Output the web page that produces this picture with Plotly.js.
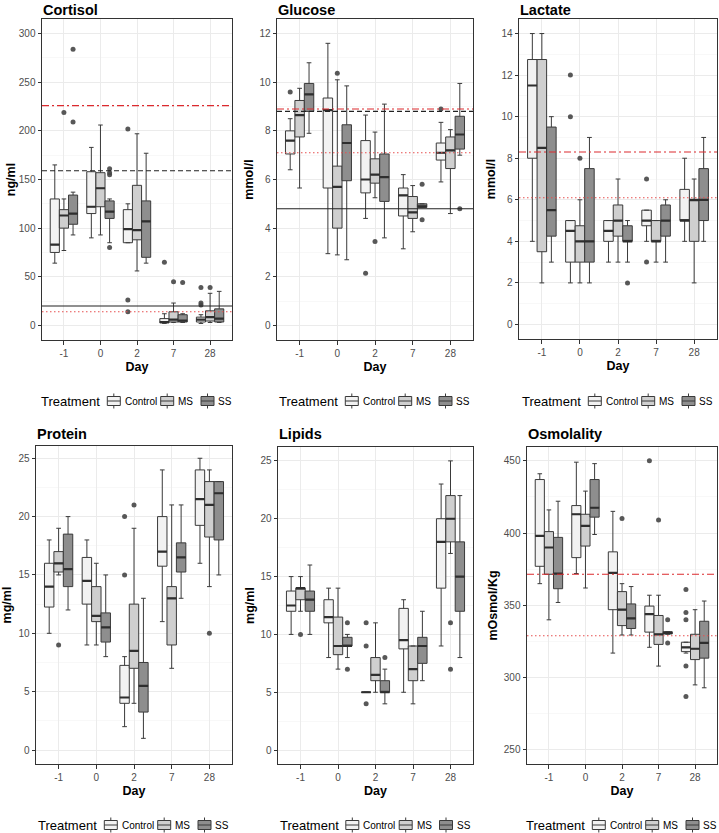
<!DOCTYPE html>
<html><head><meta charset="utf-8">
<script src="https://cdn.plot.ly/plotly-3.0.1.min.js"></script>
<style>html,body{margin:0;padding:0;background:#fff}</style>
</head><body><div id="chart" style="width:719px;height:833px"></div>
<script>
// ---------------- DATA ----------------
const days = ['-1','0','2','7','28'];
const treatments = ['Control','MS','SS'];
const panelTitles = ['Cortisol','Glucose','Lactate','Protein','Lipids','Osmolality'];
const yUnits = ['ng/ml','mmol/l','mmol/l','mg/ml','mg/ml','mOsmol/Kg'];

// each row (one per day -1,0,2,7,28): [lower whisker, Q1, median, Q3, upper whisker]
const cortisolControl = [[64,75,83,130,165],[90,115,122,158,183],[85,85,99,119,125],[2,2.5,3.5,7,12],[2,3.5,6,8.5,11]];
const cortisolMS      = [[77,100,113,119,130],[93,122,141,157,206],[56,88,98,144,197],[3,3.5,6,14,23],[3,4.5,8.5,15,33]];
const cortisolSS      = [[93,104,115,134,137],[85,110,117,128,130],[64,70,107,128,177],[3,3.5,5,11,12],[3,3.5,7,17,35]];
// outliers: [day, value]
const cortisolControlOut = [['2',202],['2',26],['2',14],['7',65],['28',39],['28',23],['28',21]];
const cortisolMSOut      = [['-1',219],['7',45],['28',39]];
const cortisolSSOut      = [['-1',209],['-1',284],['0',80],['0',155],['0',157],['0',161],['7',44]];

const glucoseControl = [[6.4,7.05,7.6,8.0,8.5],[2.95,5.65,8.85,9.35,11.6],[4.4,5.45,6.0,7.6,8.65],[3.15,4.5,5.35,5.65,6.2],[5.9,6.8,7.1,7.5,8.35]];
const glucoseMS      = [[5.65,7.75,8.65,9.25,9.75],[2.9,4.0,5.7,6.55,10.1],[5.25,5.85,6.2,6.85,7.95],[3.85,4.4,4.65,5.3,5.75],[4.6,6.45,7.2,7.75,8.05]];
const glucoseSS      = [[7.9,8.8,9.5,9.95,10.8],[2.7,5.95,7.5,8.25,9.85],[3.6,5.1,6.1,7.05,9.1],[4.85,4.85,4.9,5.0,5.0],[7.0,7.25,7.85,8.6,9.95]];
const glucoseControlOut = [['-1',9.6],['2',2.15],['28',8.9]];
const glucoseMSOut      = [['0',10.37],['2',3.45]];
const glucoseSSOut      = [['7',5.8],['7',4.35],['28',4.8]];

const lactateControl = [[4,8,11.5,12.75,14],[2,3,4.5,5,5],[3,4,4.5,5,5],[4,4.75,5,5.5,5.5],[4,5,5,6.5,8]];
const lactateMS      = [[2,3.5,8.5,12.75,14],[2,3,4,4.75,6],[3,4.25,5,5.75,7],[3,4,4,5,5],[2,4,6,6,7]];
const lactateSS      = [[3,4.25,5.5,9.5,10],[2,3,4,7.5,9],[3,4,4,4.75,5],[3,4.25,5,5.75,6],[4,5,6,7.5,9]];
const lactateControlOut = [['0',12],['0',10],['7',7],['7',3]];
const lactateMSOut      = [['0',8]];
const lactateSSOut      = [['2',2]];

const proteinControl = [[10,12.25,14,16,18],[9,12.5,14.5,16.5,18],[2,4,4.5,7.25,8],[11,15.75,17,20,24],[16,19.25,21.5,24,25]];
const proteinMS      = [[15,15.25,16,17,19],[9,11,11.5,14,16],[4,7,8.5,12.5,19],[7,9,13,14,21],[14,18.25,21,23,24]];
const proteinSS      = [[12,14,15.5,18.5,20],[8,9.25,10.5,11.75,15],[1,3.25,5.5,7.5,13],[13,15.25,16.5,17.75,21],[15,18,22,23,23]];
const proteinControlOut = [['2',20],['2',15]];
const proteinMSOut      = [['-1',9],['2',21],['28',10]];
const proteinSSOut      = [];

const lipidsControl = [[10,12,12.5,13.75,15],[8,11,11.5,13,14],[5,5,5,5,5],[5,8.75,9.5,12.25,13],[9,14,18,20,23]];
const lipidsMS      = [[12,13,14,14,15],[7,8.25,9,11.5,14],[5,6,6.5,8,11],[4,6,7,9,9],[17,18,20,22,25]];
const lipidsSS      = [[10,12,13,13.75,16],[8,9,9,9.75,10],[4,5,5,6,7],[6,7.5,9,9.75,12],[8,12,15,18,22]];
const lipidsControlOut = [['2',11],['2',9],['2',4]];
const lipidsMSOut      = [['-1',10],['28',11],['28',7]];
const lipidsSSOut      = [['0',11],['0',7],['2',8]];

const osmoControl = [[365,377,398,437,441],[372,383,413,419,449],[317,347,372.5,387,415],[321,331.5,344,349.5,357],[317,318,321,324.5,324.5]];
const osmoMS      = [[340,371.5,390,401,416],[362,391,405,413,429],[329.5,336,347,359.5,365],[308,323,330,343,357],[295,312.5,320,330,347]];
const osmoSS      = [[352,361.5,372,397,422],[399,411,417.5,437,448],[329.5,334,341,351,363],[330,330.2,331,331.8,331.8],[293,313.5,324,339,353]];
const osmoControlOut = [['7',450],['28',361],['28',345],['28',340],['28',308],['28',287]];
const osmoMSOut      = [['2',410],['7',409]];
const osmoSSOut      = [['7',340],['7',324]];

// reference lines per panel (Cortisol, Glucose, Lactate, Protein, Lipids, Osmolality)
const refRedDashDot   = [226, 8.9, 8.3, null, null, 371.5];
const refRedDotted    = [14, 7.1, 6.1, null, null, 329];
const refBlackDashed  = [159, 8.8, null, null, null, null];
const refBlackSolid   = [20, 4.8, null, null, null, null];

const yTickStep = [50, 2, 2, 5, 5, 50];

// ---------------- LAYOUT / STYLE ----------------
const W = 719, H = 833;
const fx = x => x / W, fy = y => 1 - y / H;
const FONT = 'Liberation Sans, Arial, Helvetica, sans-serif';
const fills = ['#f2f2f2', '#cfcfcf', '#8e8e8e'];
const lineCol = '#3a3a3a';

const panelStats = [
  [cortisolControl, cortisolMS, cortisolSS],
  [glucoseControl, glucoseMS, glucoseSS],
  [lactateControl, lactateMS, lactateSS],
  [proteinControl, proteinMS, proteinSS],
  [lipidsControl, lipidsMS, lipidsSS],
  [osmoControl, osmoMS, osmoSS]
];
const panelOut = [
  [cortisolControlOut, cortisolMSOut, cortisolSSOut],
  [glucoseControlOut, glucoseMSOut, glucoseSSOut],
  [lactateControlOut, lactateMSOut, lactateSSOut],
  [proteinControlOut, proteinMSOut, proteinSSOut],
  [lipidsControlOut, lipidsMSOut, lipidsSSOut],
  [osmoControlOut, osmoMSOut, osmoSSOut]
];
// panel pixel boxes [left, right, top, bottom]
const boxes = [
  [42, 232, 19, 340], [277, 473, 19, 340], [519, 717, 19, 339],
  [36, 232, 446, 764], [278, 473, 447, 764], [527, 717, 447, 764]
];
const yRanges = [[-15, 315], [-0.6, 12.6], [-0.7, 14.7], [-1.2, 26.05], [-1.2, 26.2], [240.3, 459.5]];
const yTitleStandoff = [0, 3, 3, 4, 3, 3];
const titleY = [10, 10, 10, 433.5, 433.5, 433.5];
const legendY = [401, 401, 401, 825, 825, 825];

const traces = [];
const layout = {
  width: W, height: H,
  margin: {l: 0, r: 0, t: 0, b: 0},
  paper_bgcolor: '#fff', plot_bgcolor: '#fff',
  font: {family: FONT, color: '#000'},
  showlegend: false,
  boxmode: 'group', boxgap: 0.25, boxgroupgap: 0,
  scattermode: 'group', scattergap: 0.25,
  shapes: [], annotations: []
};

const refStyles = {
  redDashDot: {color: '#dc2a2e', width: 1.2, dash: '7px,3px,2px,3px'},
  redDotted: {color: '#e65050', width: 1.1, dash: '1.5px,2.5px'},
  blackDashed: {color: '#222222', width: 1.1, dash: '5px,3px'},
  blackSolid: {color: '#222222', width: 1.1, dash: 'solid'}
};

panelTitles.forEach((title, p) => {
  const sfx = p === 0 ? '' : String(p + 1);
  const xa = 'x' + sfx, ya = 'y' + sfx;
  const [L, R, T, B] = boxes[p];

  layout['xaxis' + sfx] = {
    domain: [fx(L), fx(R)], anchor: ya, type: 'category',
    categoryorder: 'array', categoryarray: days,
    range: [-0.6, 4.6], showgrid: true, gridcolor: '#ebebeb', gridwidth: 1,
    showline: true, mirror: true, linecolor: '#333', linewidth: 1,
    ticks: 'outside', ticklen: 3.5, tickcolor: '#333', tickwidth: 1,
    tickfont: {size: 10, color: '#4d4d4d'}, zeroline: false, fixedrange: true,
    title: {text: '<b>Day</b>', font: {size: 12.5, color: '#000'}, standoff: 4}
  };
  layout['yaxis' + sfx] = {
    domain: [fy(B), fy(T)], anchor: xa, range: yRanges[p],
    dtick: yTickStep[p], tick0: 0,
    showgrid: true, gridcolor: '#ebebeb', gridwidth: 1,
    minor: {dtick: yTickStep[p] / 2, showgrid: true, gridcolor: '#f3f3f3', gridwidth: 0.6, ticks: ''},
    showline: true, mirror: true, linecolor: '#333', linewidth: 1,
    ticks: 'outside', ticklen: 3.5, tickcolor: '#333', tickwidth: 1,
    tickfont: {size: 10, color: '#4d4d4d'}, zeroline: false, fixedrange: true,
    title: {text: '<b>' + yUnits[p] + '</b>', font: {size: 12.5, color: '#000'}, standoff: yTitleStandoff[p]}
  };

  treatments.forEach((tr, t) => {
    const s = panelStats[p][t];
    traces.push({
      type: 'box', name: tr, xaxis: xa, yaxis: ya,
      x: days,
      lowerfence: s.map(r => r[0]), q1: s.map(r => r[1]), median: s.map(r => r[2]),
      q3: s.map(r => r[3]), upperfence: s.map(r => r[4]),
      boxpoints: false, fillcolor: fills[t],
      line: {color: lineCol, width: 1},
      alignmentgroup: 'g' + p, offsetgroup: tr, hoverinfo: 'skip'
    });
  });
  // thicker median bars drawn over the boxes
  treatments.forEach((tr, t) => {
    const med = panelStats[p][t].map(r => r[2]);
    traces.push({
      type: 'box', name: tr + ' median', xaxis: xa, yaxis: ya,
      x: days, lowerfence: med, q1: med, median: med, q3: med, upperfence: med,
      boxpoints: false, fillcolor: 'rgba(0,0,0,0)',
      line: {color: '#2e2e2e', width: 2.2},
      alignmentgroup: 'g' + p, offsetgroup: tr, hoverinfo: 'skip'
    });
  });
  treatments.forEach((tr, t) => {
    const o = panelOut[p][t];
    traces.push({
      type: 'scatter', mode: 'markers', name: tr + ' outliers', xaxis: xa, yaxis: ya,
      x: o.map(d => d[0]), y: o.map(d => d[1]), orientation: 'v',
      marker: {size: 5, color: 'rgba(70,70,70,0.9)'},
      alignmentgroup: 'g' + p, offsetgroup: tr, hoverinfo: 'skip'
    });
  });

  // reference lines
  const refs = [
    [refRedDotted[p], refStyles.redDotted],
    [refBlackSolid[p], refStyles.blackSolid],
    [refBlackDashed[p], refStyles.blackDashed],
    [refRedDashDot[p], refStyles.redDashDot]
  ];
  refs.forEach(([v, ln]) => {
    if (v === null) return;
    layout.shapes.push({type: 'line', xref: xa + ' domain', x0: 0, x1: 1, yref: ya, y0: v, y1: v,
      line: {color: ln.color, width: ln.width, dash: ln.dash}, layer: 'above'});
  });

  // panel title
  layout.annotations.push({
    text: '<b>' + title + '</b>', xref: 'paper', yref: 'paper', x: fx(L), y: fy(titleY[p]),
    xanchor: 'left', yanchor: 'middle', showarrow: false, borderpad: 0,
    font: {size: 14.5, color: '#000'}
  });

  // legend (Treatment key) centred under the panel
  const lx = (L + R) / 2 - 96, ly = legendY[p];
  layout.annotations.push({
    text: 'Treatment', xref: 'paper', yref: 'paper', x: fx(lx - 1), y: fy(ly),
    xanchor: 'left', yanchor: 'middle', showarrow: false, borderpad: 0,
    font: {size: 13, color: '#000'}
  });
  const glyphC = [72.8, 126.2, 166.5], labelX = [83.7, 137, 177];
  treatments.forEach((tr, t) => {
    const gx = lx + glyphC[t];
    const sh = (x0, y0, x1, y1, extra) => Object.assign({xref: 'paper', yref: 'paper', x0: fx(x0), x1: fx(x1), y0: fy(y0), y1: fy(y1)}, extra);
    layout.shapes.push(sh(gx, ly - 7.5, gx, ly - 4.5, {type: 'line', line: {color: lineCol, width: 1}}));
    layout.shapes.push(sh(gx, ly + 4.5, gx, ly + 7.5, {type: 'line', line: {color: lineCol, width: 1}}));
    layout.shapes.push(sh(gx - 6.5, ly - 4.5, gx + 6.5, ly + 4.5, {type: 'rect', fillcolor: fills[t], line: {color: lineCol, width: 1}}));
    layout.shapes.push(sh(gx - 6.5, ly, gx + 6.5, ly, {type: 'line', line: {color: lineCol, width: 1}}));
    layout.annotations.push({
      text: tr, xref: 'paper', yref: 'paper', x: fx(lx + labelX[t] - 1), y: fy(ly),
      xanchor: 'left', yanchor: 'middle', showarrow: false, borderpad: 0,
      font: {size: 10, color: '#000'}
    });
  });
});

Plotly.newPlot('chart', traces, layout, {displayModeBar: false, staticPlot: true});
</script>
</body></html>
